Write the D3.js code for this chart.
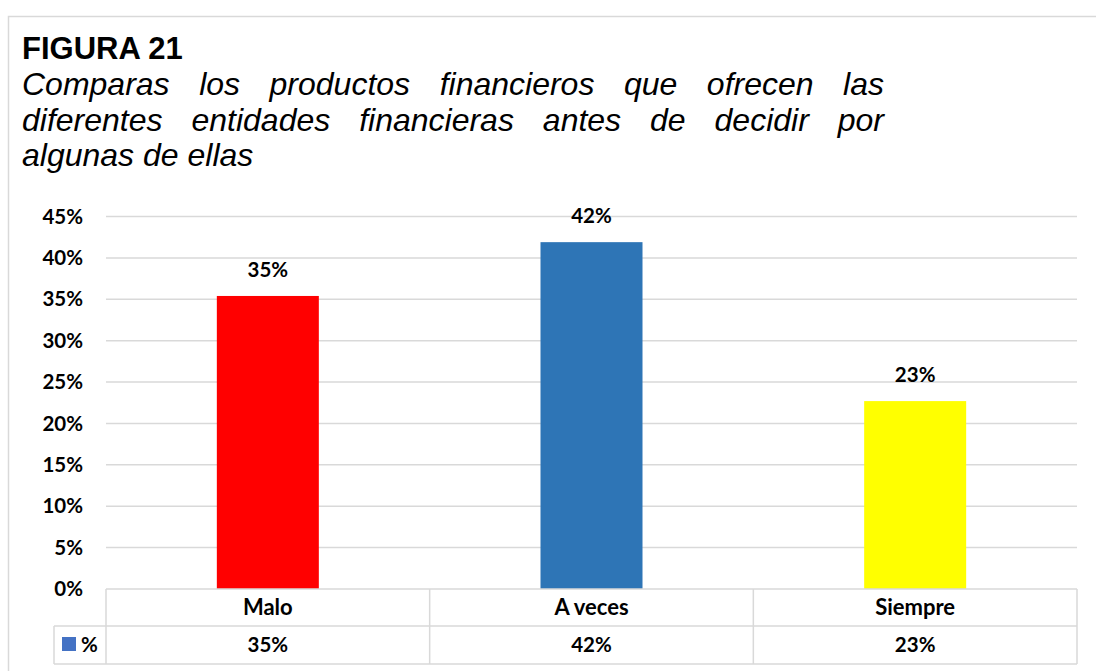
<!DOCTYPE html>
<html><head><meta charset="utf-8">
<script src="https://cdn.jsdelivr.net/npm/d3@7"></script>
<style>body{margin:0;background:#fff}svg{display:block}</style>
</head><body>
<svg id="c" width="1096" height="671"></svg>
<script>
const categories = ["Malo", "A veces", "Siempre"];
const values = [0.354, 0.419, 0.227];
const barColors = ["#FF0000", "#2E75B6", "#FFFF00"];
const yTicks = [0, 0.05, 0.10, 0.15, 0.20, 0.25, 0.30, 0.35, 0.40, 0.45];
const seriesName = "%";
const titleText = "FIGURA 21";
const subtitleLines = [
  "Comparas los productos financieros que ofrecen las",
  "diferentes entidades financieras antes de decidir por",
  "algunas de ellas"
];

const svg = d3.select("#c");
const gridColor = "#d9d9d9";
const numFont = "Lato, 'Open Sans', sans-serif";

// outer border
svg.append("path").attr("d", "M8.5,680 V16.5 H1100").attr("fill", "none")
  .attr("stroke", gridColor).attr("stroke-width", 1.5);

// title
svg.append("text").attr("x", 22).attr("y", 59).text(titleText)
  .attr("font-family", "'Liberation Sans', Arial, sans-serif")
  .attr("font-weight", "bold").attr("font-size", 31).attr("fill", "#000");

const subLeft = 22, subRight = 884, baselines = [95, 131, 166];
subtitleLines.forEach((line, i) => {
  const words = line.split(" ");
  const g = svg.append("g");
  const nodes = words.map(w => g.append("text").text(w)
    .attr("font-family", "'Liberation Sans', Arial, sans-serif")
    .attr("font-style", "italic").attr("font-size", 32).attr("fill", "#000")
    .attr("y", baselines[i]));
  const widths = nodes.map(n => n.node().getComputedTextLength());
  const justify = i < subtitleLines.length - 1;
  const total = d3.sum(widths);
  const gap = justify ? (subRight - subLeft - total) / (words.length - 1) : 8.9;
  let x = subLeft;
  nodes.forEach((n, k) => { n.attr("x", x); x += widths[k] + gap; });
});

// scales
const x = d3.scaleBand().domain(categories).range([106, 1077]).paddingInner(0).paddingOuter(0);
const y = d3.scaleLinear().domain([0, 0.45]).range([589, 216.5]);

// gridlines
svg.append("g").selectAll("line").data(yTicks.filter(t => t > 0)).join("line")
  .attr("x1", 106).attr("x2", 1077)
  .attr("y1", d => y(d)).attr("y2", d => y(d))
  .attr("stroke", gridColor).attr("stroke-width", 1.5);

// y axis labels
const yAxis = d3.axisLeft(y).tickValues(yTicks).tickFormat(d3.format(".0%")).tickSize(0).tickPadding(0);
const ya = svg.append("g").attr("transform", "translate(83,0)").call(yAxis);
ya.select(".domain").remove();
ya.selectAll("text").attr("font-family", numFont).attr("font-weight", "bold")
  .attr("font-size", 20.5).attr("fill", "#000");

// bars
const barW = 102;
svg.append("g").selectAll("rect").data(values).join("rect")
  .attr("x", (d, i) => x(categories[i]) + x.bandwidth() / 2 - barW / 2)
  .attr("width", barW)
  .attr("y", d => y(d)).attr("height", d => y(0) - y(d))
  .attr("fill", (d, i) => barColors[i]);

// data labels
svg.append("g").selectAll("text").data(values).join("text")
  .attr("x", (d, i) => x(categories[i]) + x.bandwidth() / 2)
  .attr("y", d => y(d) - 19)
  .attr("text-anchor", "middle")
  .attr("font-family", numFont).attr("font-weight", "bold").attr("font-size", 20.5)
  .attr("fill", "#000").text(d => d3.format(".0%")(d));

// data table
const tY0 = 589, tY1 = 626, tY2 = 664, legLeft = 54;
const t = svg.append("g").attr("stroke", gridColor).attr("stroke-width", 1.5).attr("fill", "none");
t.append("line").attr("x1", 106).attr("x2", 1077).attr("y1", tY0).attr("y2", tY0);
t.append("line").attr("x1", legLeft).attr("x2", 1077).attr("y1", tY1).attr("y2", tY1);
t.append("line").attr("x1", legLeft).attr("x2", 1077).attr("y1", tY2).attr("y2", tY2);
t.append("line").attr("x1", legLeft).attr("x2", legLeft).attr("y1", tY1).attr("y2", tY2);
const bounds = categories.map(c => x(c)).concat([x.range()[1]]);
t.selectAll(".v").data(bounds).join("line")
  .attr("x1", d => d).attr("x2", d => d).attr("y1", tY0).attr("y2", tY2);

svg.append("g").selectAll("text").data(categories).join("text")
  .attr("x", d => x(d) + x.bandwidth() / 2).attr("y", (tY0 + tY1) / 2)
  .attr("dy", "0.35em").attr("text-anchor", "middle")
  .attr("font-family", numFont).attr("font-weight", "bold").attr("font-size", 22)
  .attr("fill", "#000").text(d => d);

svg.append("g").selectAll("text").data(values).join("text")
  .attr("x", (d, i) => x(categories[i]) + x.bandwidth() / 2).attr("y", (tY1 + tY2) / 2)
  .attr("dy", "0.35em").attr("text-anchor", "middle")
  .attr("font-family", numFont).attr("font-weight", "bold").attr("font-size", 20.5)
  .attr("fill", "#000").text(d => d3.format(".0%")(d));

// legend key
svg.append("rect").attr("x", 62).attr("y", 637).attr("width", 14).attr("height", 14).attr("fill", "#4472C4");
svg.append("text").attr("x", 81).attr("y", (tY1 + tY2) / 2).attr("dy", "0.35em")
  .attr("font-family", numFont).attr("font-weight", "bold").attr("font-size", 20.5)
  .attr("fill", "#000").text(seriesName);
</script>
</body></html>
